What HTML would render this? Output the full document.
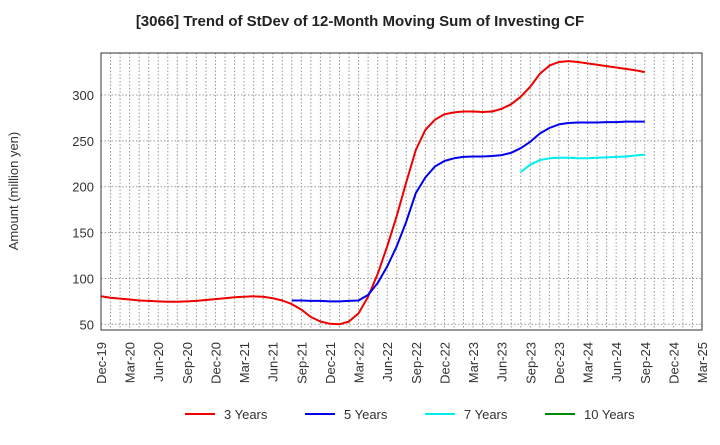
<!DOCTYPE html>
<html><head><meta charset="utf-8"><style>
body{margin:0;background:#fff;font-family:"Liberation Sans",sans-serif}
</style></head><body>
<svg id="c" width="720" height="440" xmlns="http://www.w3.org/2000/svg" font-family="Liberation Sans, sans-serif">
<text x="360" y="26" text-anchor="middle" font-size="15" font-weight="bold" fill="#222">[3066]  Trend of StDev of 12-Month Moving Sum of Investing CF</text>
<text transform="translate(18,191) rotate(-90)" text-anchor="middle" font-size="13" fill="#333">Amount (million yen)</text>
<g id="grid"></g><g id="series"></g><g id="axes"></g><g id="legend"></g>
</svg>
<script>
const xLabels=["Dec-19","Mar-20","Jun-20","Sep-20","Dec-20","Mar-21","Jun-21","Sep-21","Dec-21","Mar-22","Jun-22","Sep-22","Dec-22","Mar-23","Jun-23","Sep-23","Dec-23","Mar-24","Jun-24","Sep-24","Dec-24","Mar-25"];
const yTicks=[50,100,150,200,250,300];
const s3=[80.5,79,78,77,76,75.5,75,74.5,74.5,75,75.5,76.5,77.5,78.5,79.5,80,80.5,80,78.5,76,72,66,58,53,50.5,50,53,62,80,105,135,168,205,240,262,273,279,281,282,282,281.5,282,285,290,298,309,323,332,336,337,336,334.5,333,331.5,330,328.5,327,325];
const s3Start=0;
const s5=[76,76,75.5,75.5,75,75,75.5,76,82,95,113,135,162,193,210,222,228,231,232.5,233,233,233.5,234.5,237,242,249,258,264,268,269.5,270,270,270,270.5,270.5,271,271,271];
const s5Start=20;
const s7=[216,224,229,231,231.5,231.5,231,231,231.5,232,232.5,233,234,235];
const s7Start=44;
const s10=[];
const L=101,R=702,T=53,B=330;
const X=m=>L+(R-L)*m/63;
const Y=v=>324.3-(v-50)*229.3/250;
const ns="http://www.w3.org/2000/svg";
function mk(t,a,p){const e=document.createElementNS(ns,t);for(const k in a)e.setAttribute(k,a[k]);p.appendChild(e);return e;}
const g=document.getElementById('grid');
for(let m=1;m<63;m++){const l=mk('line',{x1:X(m),x2:X(m),y1:T,y2:B,stroke:'#999','stroke-dasharray':'1.5,2','stroke-width':1},g);

}
yTicks.forEach(v=>{const l=mk('line',{x1:L,x2:R,y1:Y(v),y2:Y(v),stroke:'#999','stroke-dasharray':'1.5,2'},g);

});
const ax=document.getElementById('axes');
const fr=mk('rect',{x:L,y:T,width:R-L,height:B-T,fill:'none',stroke:'#333','stroke-width':1},ax);


yTicks.forEach(v=>{const t=mk('text',{x:L-7,y:Y(v)+5,'text-anchor':'end','font-size':13,fill:'#333'},ax);t.textContent=v;

});
xLabels.forEach((s,i)=>{const x=X(i*3);const t=mk('text',{transform:`translate(${x+5},${B+12}) rotate(-90)`,'text-anchor':'end','font-size':13,fill:'#333'},ax);t.textContent=s;

});
const sg=document.getElementById('series');
function line(arr,start,color,name){if(!arr.length)return;const d=arr.map((v,i)=>(i?'L':'M')+X(start+i).toFixed(1)+','+Y(v).toFixed(1)).join('');
const p=mk('path',{d:d,fill:'none',stroke:color,'stroke-width':2,'stroke-linejoin':'round'},sg);

}
line(s3,s3Start,'#ee0000','series-3-years');
line(s5,s5Start,'#0000ee','series-5-years');
line(s7,s7Start,'#00eeee','series-7-years');
line(s10,0,'#008800','series-10-years');
const lg=document.getElementById('legend');
[['3 Years','#ee0000',185],['5 Years','#0000ee',305],['7 Years','#00eeee',425],['10 Years','#008800',545]].forEach(([n,c,x])=>{
const gg=mk('g',{},lg);


mk('line',{x1:x,x2:x+30,y1:414,y2:414,stroke:c,'stroke-width':2},gg);
const t=mk('text',{x:x+39,y:419,'font-size':13,fill:'#333'},gg);t.textContent=n;});
</script>
</body></html>
